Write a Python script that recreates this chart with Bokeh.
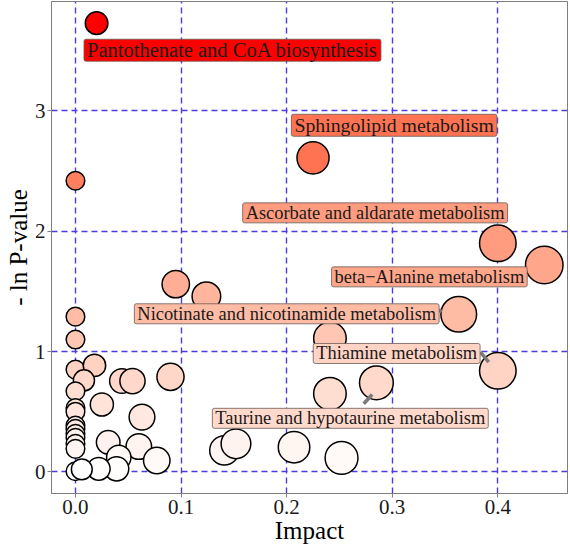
import math

from bokeh.embed import file_html
from bokeh.models import ColumnDataSource, FixedTicker, Label, NumeralTickFormatter, Range1d
from bokeh.plotting import figure
from bokeh.resources import INLINE

# Pathway impact vs. -ln(P) for every pathway in the enrichment
impact = [
    0.020, 0.000, 0.225, 0.400, 0.444, 0.095, 0.124, 0.363, 0.241, 0.400,
    0.285, 0.241, 0.000, 0.000, 0.000, 0.018, 0.008, 0.000, 0.000, 0.000,
    0.000, 0.000, 0.000, 0.000, 0.000, 0.000, 0.000, 0.025, 0.044, 0.054,
    0.090, 0.063, 0.031, 0.060, 0.041, 0.077, 0.039, 0.022, 0.006, 0.141,
    0.152, 0.207, 0.252,
]
neg_ln_p = [
    3.73, 2.42, 2.61, 1.90, 1.72, 1.56, 1.46, 1.31, 1.11, 0.84,
    0.74, 0.65, 1.29, 1.10, 0.85, 0.885, 0.76, 0.67, 0.53, 0.50,
    0.385, 0.357, 0.316, 0.283, 0.233, 0.191, 0.005, 0.56, 0.755, 0.755,
    0.79, 0.455, 0.246, 0.21, 0.12, 0.094, 0.025, 0.025, 0.02, 0.178,
    0.233, 0.205, 0.116,
]

# Annotated pathways: index into the arrays above, and label centre (data units)
label_names = [
    "Pantothenate and CoA biosynthesis",
    "Sphingolipid metabolism",
    "Ascorbate and aldarate metabolism",
    "beta\u2212Alanine metabolism",
    "Nicotinate and nicotinamide metabolism",
    "Thiamine metabolism",
    "Taurine and hypotaurine metabolism",
]
label_point = [0, 2, 3, 4, 7, 9, 10]
label_x = [0.1487, 0.3018, 0.2838, 0.3352, 0.2001, 0.3042, 0.2603]
label_y = [3.505, 2.881, 2.153, 1.621, 1.314, 0.984, 0.445]
label_font_px = ["20.5px", "19.8px", "18.4px", "18.4px", "18.4px", "18.4px", "18.4px"]

# Leader segments joining a label to its point
seg_x0 = [0.3835, 0.2730, 0.3442]
seg_y0 = [0.995, 0.566, 1.329]
seg_x1 = [0.3914, 0.2810, 0.3466]
seg_y1 = [0.912, 0.643, 1.350]

x_ticks = [0.0, 0.1, 0.2, 0.3, 0.4]
y_ticks = [0, 1, 2, 3]

FONT = "Liberation Serif"


# --- white -> red colour ramp interpolated in CIE Lab ---------------------
def _srgb_to_lab(rgb):
    def lin(c):
        c = c / 255.0
        return c / 12.92 if c <= 0.04045 else ((c + 0.055) / 1.055) ** 2.4

    r, g, b = (lin(c) for c in rgb)
    X = 0.4124 * r + 0.3576 * g + 0.1805 * b
    Y = 0.2126 * r + 0.7152 * g + 0.0722 * b
    Z = 0.0193 * r + 0.1192 * g + 0.9505 * b
    d = 6 / 29

    def f(t):
        return t ** (1 / 3) if t > d ** 3 else t / (3 * d * d) + 4 / 29

    fx, fy, fz = f(X / 0.95047), f(Y / 1.0), f(Z / 1.08883)
    return (116 * fy - 16, 500 * (fx - fy), 200 * (fy - fz))


def _lab_to_hex(lab):
    L, a, b = lab
    d = 6 / 29
    fy = (L + 16) / 116
    fx = fy + a / 500
    fz = fy - b / 200

    def finv(t):
        return t ** 3 if t > d else 3 * d * d * (t - 4 / 29)

    X, Y, Z = 0.95047 * finv(fx), finv(fy), 1.08883 * finv(fz)
    r = 3.2406 * X - 1.5372 * Y - 0.4986 * Z
    g = -0.9689 * X + 1.8758 * Y + 0.0415 * Z
    bl = 0.0557 * X - 0.2040 * Y + 1.0570 * Z

    def gam(c):
        c = 12.92 * c if c <= 0.0031308 else 1.055 * c ** (1 / 2.4) - 0.055
        return int(round(min(max(c, 0.0), 1.0) * 255))

    return "#%02x%02x%02x" % (gam(r), gam(g), gam(bl))


LAB_LO = _srgb_to_lab((255, 255, 255))
LAB_HI = _srgb_to_lab((255, 0, 0))
y_max = max(neg_ln_p)


def ramp(v):
    t = v / y_max
    return _lab_to_hex(tuple(lo + (hi - lo) * t for lo, hi in zip(LAB_LO, LAB_HI)))


fill = [ramp(v) for v in neg_ln_p]
# marker diameter grows with sqrt(impact) (area-proportional size scale)
size = [2 * (9.3 + 14.2 * math.sqrt(v)) for v in impact]

src = ColumnDataSource(dict(x=impact, y=neg_ln_p, fill=fill, size=size))

p = figure(
    width=570,
    height=551,
    output_backend="svg",
    toolbar_location=None,
    x_range=Range1d(-0.0227, 0.466),
    y_range=Range1d(-0.18, 3.91),
    min_border_left=51,
    min_border_right=3,
    min_border_top=1,
    min_border_bottom=58,
    background_fill_color="white",
    border_fill_color="white",
    outline_line_color="#7f7f7f",
    outline_line_width=1,
)

# grid
for g in (p.xgrid, p.ygrid):
    g.grid_line_color = "#4b3de6"
    g.grid_line_dash = "6 4"
    g.grid_line_width = 1.4
p.xgrid.ticker = FixedTicker(ticks=x_ticks)
p.ygrid.ticker = FixedTicker(ticks=y_ticks)

# axes
p.xaxis.ticker = FixedTicker(ticks=x_ticks)
p.yaxis.ticker = FixedTicker(ticks=y_ticks)
p.xaxis.formatter = NumeralTickFormatter(format="0.0")
p.yaxis.formatter = NumeralTickFormatter(format="0")
p.xaxis.axis_label = "Impact"
p.yaxis.axis_label = "- ln P-value"
for ax in (p.xaxis, p.yaxis):
    ax.axis_line_color = "#7f7f7f"
    ax.major_tick_line_color = "#7f7f7f"
    ax.major_tick_out = 4
    ax.major_tick_in = 0
    ax.minor_tick_line_color = None
    ax.major_label_text_font = FONT
    ax.major_label_text_font_size = "21px"
    ax.major_label_text_color = "#1a1a1a"
    ax.major_label_standoff = 2
    ax.axis_label_text_font = FONT
    ax.axis_label_text_font_size = "25px"
    ax.axis_label_text_font_style = "normal"
    ax.axis_label_text_color = "#000000"
    ax.axis_label_standoff = 0

# bubbles
p.scatter(
    "x", "y", source=src, size="size", fill_color="fill",
    line_color="#000000", line_width=1.5,
)

# leader segments
p.segment(seg_x0, seg_y0, seg_x1, seg_y1, line_color="#7a7a7a", line_width=3.5)

# pathway labels, filled with the colour of their bubble
for name, idx, lx, ly, fs in zip(label_names, label_point, label_x, label_y, label_font_px):
    p.add_layout(
        Label(
            x=lx, y=ly, text=name,
            text_font=FONT, text_font_size=fs, text_color="#1a1a1a",
            text_align="center", text_baseline="middle",
            background_fill_color=fill[idx], background_fill_alpha=1.0,
            border_line_color="#6b5a55", border_line_width=0.8,
            border_radius=2,
            padding=dict(left=3, right=3, top=0, bottom=0),
        )
    )

open("out.html", "w").write(file_html(p, INLINE))
